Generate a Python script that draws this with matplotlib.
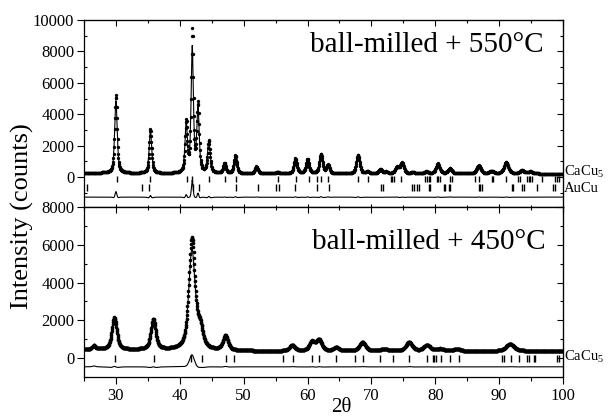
import numpy as np
import matplotlib
matplotlib.use("Agg")
import matplotlib.pyplot as plt
from matplotlib.ticker import MultipleLocator

# ---------------- data ----------------
# top panel: ball-milled + 550 C  (peak position, observed height, calculated height, FWHM)
top_pos  = [30.0, 35.4, 41.0, 41.95, 42.85, 44.55, 47.0, 48.7, 52.0, 55.3, 58.1, 60.0, 62.1, 63.2,
            67.9, 69.4, 71.4, 72.3, 74.0, 74.8, 76.5, 78.6, 80.4, 82.3, 86.8, 88.8, 91.1, 93.6, 94.9]
top_obs  = [4950, 2800, 3200, 9000, 4300, 2050, 650, 1150, 450, 100, 950, 930, 1230, 540,
            1180, 130, 270, 110, 400, 680, 90, 130, 650, 330, 520, 180, 740, 200, 130]
top_calc = [4600, 2700, 3050, 7900, 4050, 2000, 640, 1120, 440, 100, 930, 910, 1200, 520,
            1160, 130, 270, 110, 390, 670, 90, 130, 640, 320, 510, 180, 730, 195, 130]
top_fwhm = [0.45, 0.45, 0.42, 0.40, 0.42, 0.48, 0.50, 0.50, 0.55, 0.55, 0.55, 0.55, 0.55, 0.55,
            0.60, 0.60, 0.60, 0.60, 0.65, 0.65, 0.65, 0.7, 0.7, 0.7, 0.75, 0.75, 0.8, 0.8, 0.8]
top_bg_x = [25, 40, 60, 80, 100]
top_bg_y = [270, 230, 220, 210, 220]

# bottom panel: ball-milled + 450 C
bot_pos  = [26.55, 29.75, 35.85, 41.9, 43.2, 47.15, 57.6, 60.7, 61.8, 64.5, 68.6, 72.0, 75.9,
            78.7, 80.8, 83.4, 91.7]
bot_obs  = [200, 1700, 1600, 5900, 1000, 760, 300, 480, 580, 180, 470, 100, 460, 320, 120, 120, 370]
bot_calc = [150, 1680, 1600, 5250, 1050, 740, 290, 470, 570, 180, 460, 100, 450, 320, 120, 120, 365]
bot_fwhm = [0.6, 0.9, 0.9, 1.15, 1.0, 0.95, 1.0, 1.0, 1.0, 1.0, 1.1, 1.5, 1.2, 1.2, 1.3, 1.3, 1.5]
bot_bg_x = [25, 32, 38, 50, 55, 66, 85, 100]
bot_bg_y = [460, 440, 430, 380, 370, 370, 360, 390]

# reflection markers (2theta)
top_cacu5 = [30.1, 35.4, 41.1, 41.9, 44.6, 47.05, 48.8, 55.4, 58.2, 60.3, 61.5, 62.1, 63.2, 67.9,
             69.4, 73.1, 73.3, 73.6, 74.6, 78.4, 78.7, 79.0, 79.2, 80.3, 80.5, 80.8, 82.3, 82.6,
             86.2, 86.9, 88.9, 89.1, 91.1, 92.9, 93.2, 94.3, 94.6, 94.9, 95.1, 96.7, 98.7, 99.0, 99.3]
top_aucu = [25.5, 34.1, 35.2, 42.1, 43.0, 48.85, 52.2, 55.1, 55.6, 58.1, 61.5, 63.4, 71.5, 71.8,
            76.4, 76.6, 77.2, 77.4, 79.05, 79.2, 81.3, 81.6, 82.1, 82.3, 86.8, 87.0, 87.3,
            92.0, 92.2, 93.6, 93.9, 96.0, 98.5, 98.75]
bot_cacu5 = [29.85, 35.95, 41.8, 43.5, 47.25, 48.5, 56.1, 57.65, 60.7, 61.8, 64.45, 67.5, 68.65,
             71.35, 73.4, 75.95, 78.65, 79.6, 79.85, 80.1, 80.9, 82.3, 83.65, 90.4, 90.7, 91.8,
             93.1, 94.3, 94.6, 95.4, 95.6, 99.0, 99.3]

two_theta_start, two_theta_stop, two_theta_step = 25.0, 100.0, 0.05
top_diff_offset = -1270
bot_diff_offset = -460

x_ticks = [30, 40, 50, 60, 70, 80, 90, 100]
top_yticks = [0, 2000, 4000, 6000, 8000, 10000]
bot_yticks = [0, 2000, 4000, 6000, 8000]

# ---------------- profiles ----------------
tt = np.arange(two_theta_start, two_theta_stop + 1e-9, two_theta_step)


def pseudo_voigt(x, pos, h, w, eta=0.6):
    d = (x - pos) / w
    return h * (eta / (1 + 4 * d ** 2) + (1 - eta) * np.exp(-4 * np.log(2) * d ** 2))


def profile(pos, heights, fwhm, bgx, bgy):
    y = np.interp(tt, bgx, bgy).astype(float)
    for p, h, w in zip(pos, heights, fwhm):
        y += pseudo_voigt(tt, p, h, w)
    return y


top_o = profile(top_pos, top_obs, top_fwhm, top_bg_x, top_bg_y)
top_c = profile(top_pos, top_calc, [w * 1.05 for w in top_fwhm], top_bg_x, top_bg_y)
bot_o = profile(bot_pos, bot_obs, bot_fwhm, bot_bg_x, bot_bg_y)
bot_c = profile(bot_pos, bot_calc, [w * 1.04 for w in bot_fwhm], bot_bg_x, bot_bg_y)

# ---------------- figure ----------------
plt.rcParams['font.family'] = ['Liberation Serif', 'DejaVu Serif']
plt.rcParams['mathtext.fontset'] = 'custom'
plt.rcParams['mathtext.rm'] = 'Liberation Serif'

fig = plt.figure(figsize=(6.08, 4.17), dpi=100)
W, H = 608.0, 417.0
L, R = 84, 563
ax1 = fig.add_axes([L / W, 1 - 207 / H, (R - L) / W, (207 - 20) / H])
ax2 = fig.add_axes([L / W, 1 - 377 / H, (R - L) / W, (377 - 207) / H])

tick_fs = 12


def style(ax, ylim, yticks, show_xlabels, xdir):
    ax.set_xlim(two_theta_start, two_theta_stop)
    ax.set_ylim(*ylim)
    ax.set_xticks(x_ticks)
    ax.xaxis.set_minor_locator(MultipleLocator(5))
    ax.set_yticks(yticks)
    ax.yaxis.set_minor_locator(MultipleLocator(1000))
    ax.tick_params(axis='x', which='major', direction=xdir, length=5, width=0.8,
                   labelsize=tick_fs, labelbottom=show_xlabels, pad=3)
    ax.tick_params(axis='x', which='minor', direction=xdir, length=3, width=0.8)
    ax.tick_params(axis='y', which='major', direction='out', length=5, width=0.8,
                   labelsize=tick_fs, pad=2)
    ax.tick_params(axis='y', which='minor', direction='in', length=2.5, width=0.8)
    for s in ax.spines.values():
        s.set_linewidth(0.9)
    sx = ax.secondary_xaxis('top')
    sx.set_xticks(x_ticks)
    sx.xaxis.set_minor_locator(MultipleLocator(5))
    sx.tick_params(axis='x', which='major', direction='in', length=4, width=0.8, labeltop=False)
    sx.tick_params(axis='x', which='minor', direction='in', length=2, width=0.8)
    sy = ax.secondary_yaxis('right')
    sy.set_yticks(yticks)
    sy.yaxis.set_minor_locator(MultipleLocator(1000))
    sy.tick_params(axis='y', which='major', direction='in', length=4, width=0.8, labelright=False)
    sy.tick_params(axis='y', which='minor', direction='in', length=2, width=0.8)


style(ax1, (-1900, 10000), top_yticks, False, 'inout')
style(ax2, (-1000, 8000), bot_yticks, True, 'out')

# top panel
ax1.plot(tt, top_o, 'o', color='black', ms=2.4, mew=0, zorder=3)
ax1.plot(tt, top_c, '-', color='black', lw=0.8, zorder=4)
ax1.plot(tt, top_o - top_c + top_diff_offset, '-', color='black', lw=0.8)
ax1.vlines(top_cacu5, -300, 100, color='black', lw=1.0)
ax1.vlines(top_aucu, -900, -450, color='black', lw=1.0)
ax1.text(0.472, 0.866, 'ball-milled + 550°C', transform=ax1.transAxes,
         fontsize=21, ha='left', va='center')

# bottom panel
ax2.plot(tt, bot_o, 'o', color='black', ms=2.6, mew=0, zorder=3)
ax2.plot(tt, bot_c, '-', color='black', lw=0.8, zorder=4)
ax2.plot(tt, bot_o - bot_c + bot_diff_offset, '-', color='black', lw=0.8)
ax2.vlines(bot_cacu5, -210, 160, color='black', lw=1.0)
ax2.text(0.477, 0.794, 'ball-milled + 450°C', transform=ax2.transAxes,
         fontsize=21, ha='left', va='center')

# phase labels
fig.text(564 / W, 1 - 172 / H, 'CaCu$_5$', fontsize=10.5, ha='left', va='center')
fig.text(564 / W, 1 - 188 / H, 'AuCu', fontsize=10.5, ha='left', va='center')
fig.text(564 / W, 1 - 357 / H, 'CaCu$_5$', fontsize=10.5, ha='left', va='center')

fig.text(22 / W, 1 - 216 / H, 'Intensity (counts)', rotation=90, fontsize=19,
         ha='center', va='center')
fig.text(341 / W, 1 - 408 / H, '2θ', fontsize=15, ha='center', va='center')

fig.savefig('out.png', dpi=100)
